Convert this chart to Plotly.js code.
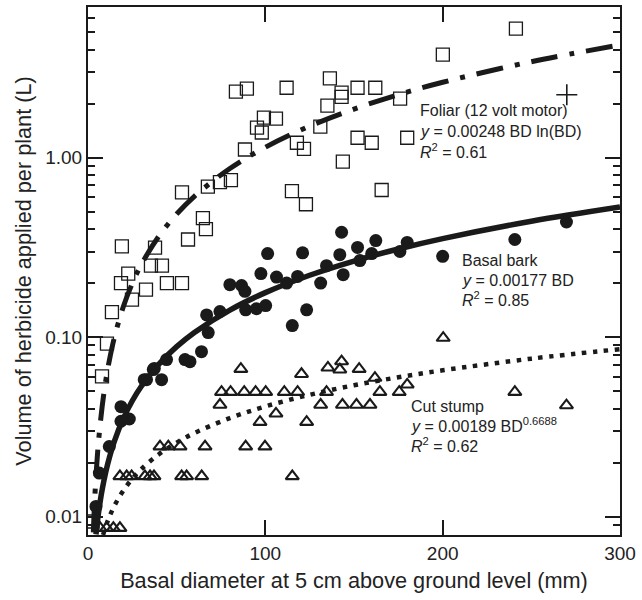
<!DOCTYPE html>
<html>
<head>
<meta charset="utf-8">
<script src="https://cdn.plot.ly/plotly-3.0.1.min.js"></script>
<style>html,body{margin:0;padding:0;background:#fff;}#chart{width:642px;height:600px;}</style>
</head>
<body>
<div id="chart"></div>
<script>
// Foliar (12 volt motor) – open squares
const foliarBD = [2.6, 7.9, 10.7, 13.5, 18.6, 19.1, 22.7, 24.8, 32.7, 35.5, 37.8, 41.7, 44.5, 53, 53, 56.4, 64.8, 66.5, 67.6, 74.4, 80.6, 83.4, 89.6, 88.5, 95.3, 98, 99.2, 106, 112, 115, 117.8, 121.8, 122.9, 131, 135, 136.4, 143, 143, 143.7, 152, 152, 160, 162, 165.6, 176, 180, 200.1, 241.3];
const foliarVol = [0.0094, 0.0605, 0.092, 0.138, 0.20, 0.32, 0.226, 0.162, 0.184, 0.25, 0.315, 0.25, 0.20, 0.20, 0.64, 0.35, 0.46, 0.40, 0.69, 0.73, 0.75, 2.33, 2.42, 1.11, 1.47, 1.38, 1.67, 1.65, 2.45, 0.65, 1.21, 1.12, 0.55, 1.49, 1.95, 2.76, 2.3, 2.18, 0.95, 2.45, 1.29, 1.21, 2.45, 0.66, 2.13, 1.29, 3.75, 5.23];

// Basal bark – filled circles
const basalBD = [4.5, 6.4, 12, 18.6, 18.6, 23.3, 31.7, 33, 36.8, 37.4, 41.5, 44.3, 54.7, 57.5, 64, 66.9, 67.8, 74.4, 80, 86.6, 88.5, 88.9, 95, 97.5, 100.2, 101.3, 106.3, 112, 115.2, 118.2, 121, 123.3, 131.2, 134.5, 142, 143, 143.9, 152, 153.3, 160, 162.3, 175.9, 180, 200, 240.7, 269.8];
const basalVol = [0.0114, 0.0175, 0.0246, 0.041, 0.034, 0.035, 0.058, 0.058, 0.066, 0.067, 0.058, 0.075, 0.075, 0.073, 0.083, 0.133, 0.106, 0.139, 0.196, 0.194, 0.18, 0.142, 0.144, 0.226, 0.15, 0.292, 0.216, 0.20, 0.116, 0.218, 0.295, 0.142, 0.20, 0.25, 0.288, 0.384, 0.223, 0.316, 0.267, 0.292, 0.345, 0.30, 0.337, 0.282, 0.35, 0.438];

// Cut stump – open triangles
const cutBD = [6.8, 10.5, 14.3, 18, 18, 21.8, 24.6, 32.1, 35, 37.2, 52.8, 55.6, 64.1, 115.2, 40.6, 45.3, 51.9, 66, 88.9, 99.8, 97, 123.3, 106, 74.4, 131.2, 143.5, 151.4, 159, 269.8, 75.3, 80.4, 88.1, 94.5, 100.2, 110.7, 118.2, 134.5, 164.6, 175.5, 240.7, 180, 161.8, 120.4, 86.2, 135.3, 142, 152.9, 143, 200.3];
const cutVol = [0.00865, 0.00865, 0.00865, 0.00865, 0.0168, 0.0168, 0.0168, 0.0168, 0.0168, 0.0168, 0.0168, 0.0168, 0.0168, 0.0168, 0.0246, 0.0246, 0.0246, 0.0246, 0.0246, 0.0246, 0.0337, 0.0337, 0.0375, 0.042, 0.042, 0.042, 0.042, 0.042, 0.0417, 0.0495, 0.0495, 0.0495, 0.0495, 0.0495, 0.0495, 0.0495, 0.0495, 0.0495, 0.0495, 0.0495, 0.0544, 0.0593, 0.0623, 0.0665, 0.0676, 0.066, 0.0665, 0.0733, 0.099];

// Extra "+" point
const plusBD = [270];
const plusVol = [2.24];

// Fitted curves
const foliarFitBD = [3, 3.5, 4, 5, 6, 8, 10, 12, 15, 20, 25, 30, 40, 50, 60, 80, 100, 125, 150, 175, 200, 250, 300];
const foliarFitVol = [0.00817, 0.01087, 0.01375, 0.01996, 0.02666, 0.04126, 0.0571, 0.07395, 0.10074, 0.14859, 0.19957, 0.25305, 0.36594, 0.48509, 0.60924, 0.86939, 1.1421, 1.4968, 1.8639, 2.2415, 2.628, 3.4233, 4.2436];
const basalFitBD = [4.5, 5, 6, 7, 8, 10, 12, 15, 20, 25, 30, 40, 50, 60, 80, 100, 125, 150, 175, 200, 250, 300];
const basalFitVol = [0.00797, 0.00885, 0.01062, 0.01239, 0.01416, 0.0177, 0.02124, 0.02655, 0.0354, 0.04425, 0.0531, 0.0708, 0.0885, 0.1062, 0.1416, 0.177, 0.2213, 0.2655, 0.3098, 0.354, 0.4425, 0.531];
const cutFitBD = [8.5, 10, 12, 15, 20, 25, 30, 40, 50, 60, 80, 100, 125, 150, 175, 200, 250, 300];
const cutFitVol = [0.00791, 0.008817, 0.009959, 0.011563, 0.014016, 0.016273, 0.018382, 0.022281, 0.025867, 0.029221, 0.035417, 0.041121, 0.047741, 0.053931, 0.059792, 0.065375, 0.075902, 0.08573];

// Axis ticks
const xTickVals = [0, 100, 200, 300];
const xTickText = ["0", "100", "200", "300"];
const yTickVals = [0.01, 0.1, 1];
const yTickText = ["0.01", "0.10", "1.00"];
const yMinorVals = [0.008, 0.009, 0.02, 0.03, 0.04, 0.05, 0.06, 0.07, 0.08, 0.09, 0.2, 0.3, 0.4, 0.5, 0.6, 0.7, 0.8, 0.9, 2, 3, 4, 5, 6];

const ink = '#1a1a1a';
const traces = [
  {x: foliarBD, y: foliarVol, mode: 'markers', type: 'scatter',
   marker: {symbol: 'square-open', size: 13, color: ink, line: {width: 1.3, color: ink}}},
  {x: cutBD, y: cutVol, mode: 'markers', type: 'scatter',
   marker: {symbol: 'triangle-up-open', size: 11.5, color: ink, line: {width: 2.1, color: ink}}},
  {x: basalBD, y: basalVol, mode: 'markers', type: 'scatter',
   marker: {symbol: 'circle', size: 13, color: ink, line: {width: 0}}},
  {x: plusBD, y: plusVol, mode: 'markers', type: 'scatter',
   marker: {symbol: 'cross-thin-open', size: 15, color: ink, line: {width: 1.6, color: ink}}},
  {x: foliarFitBD, y: foliarFitVol, mode: 'lines', type: 'scatter',
   line: {color: ink, width: 5, dash: '27px,12px,5px,12px', shape: 'spline'}},
  {x: basalFitBD, y: basalFitVol, mode: 'lines', type: 'scatter',
   line: {color: ink, width: 5.5, shape: 'spline'}},
  {x: cutFitBD, y: cutFitVol, mode: 'lines', type: 'scatter',
   line: {color: ink, width: 4.5, dash: '4.5px,6.5px', shape: 'spline'}}
];

const fam = 'Liberation Sans, Arial, sans-serif';
const tickFont = {family: fam, size: 19, color: '#222'};
const annFont = {family: fam, size: 16, color: '#222'};
const titleFont = {family: fam, size: 21.7, color: '#222'};

function py(p) { return 1 - (p - 7) / 528; }
function px(p) { return (p - 88) / 532; }
function ann(text, x, y) {
  return {text: text, xref: 'paper', yref: 'paper', x: px(x), y: py(y),
          xanchor: 'left', yanchor: 'middle', showarrow: false, font: annFont, align: 'left'};
}

const layout = {
  width: 642, height: 600,
  margin: {l: 88, r: 22, t: 7, b: 65},
  paper_bgcolor: '#fff', plot_bgcolor: '#fff',
  showlegend: false,
  font: {family: fam, color: '#222'},
  xaxis: {
    range: [0, 300], tickmode: 'array', tickvals: xTickVals, ticktext: xTickText,
    ticks: 'inside', ticklen: 15, tickwidth: 2, tickcolor: ink,
    showline: true, linewidth: 2, linecolor: ink, mirror: 'ticks',
    showgrid: false, zeroline: false, tickfont: tickFont,
    title: {text: 'Basal diameter at 5 cm above ground level (mm)', font: titleFont, standoff: 10}
  },
  yaxis: {
    type: 'log', range: [-2.102, 0.839], tickmode: 'array', tickvals: yTickVals, ticktext: yTickText,
    ticks: 'inside', ticklen: 15, tickwidth: 2, tickcolor: ink,
    minor: {tickmode: 'array', tickvals: yMinorVals, ticks: 'inside', ticklen: 7, tickwidth: 2, tickcolor: ink, showgrid: false},
    showline: true, linewidth: 2, linecolor: ink, mirror: 'ticks',
    showgrid: false, zeroline: false, tickfont: tickFont,
    title: {text: 'Volume of herbicide applied per plant (L)', font: titleFont, standoff: 8}
  },
  annotations: [
    ann('Foliar (12 volt motor)', 418, 110),
    ann('<i>y</i> = 0.00248 BD ln(BD)', 418, 131),
    ann('<i>R</i><sup>2</sup> = 0.61', 418, 151),
    ann('Basal bark', 460, 260),
    ann('<i>y</i> = 0.00177 BD', 460, 280),
    ann('<i>R</i><sup>2</sup> = 0.85', 460, 299),
    ann('Cut stump', 409, 406),
    ann('<i>y</i> = 0.00189 BD<sup>0.6688</sup>', 409, 425),
    ann('<i>R</i><sup>2</sup> = 0.62', 409, 445)
  ]
};

Plotly.newPlot('chart', traces, layout, {staticPlot: true, displayModeBar: false});
</script>
</body>
</html>
